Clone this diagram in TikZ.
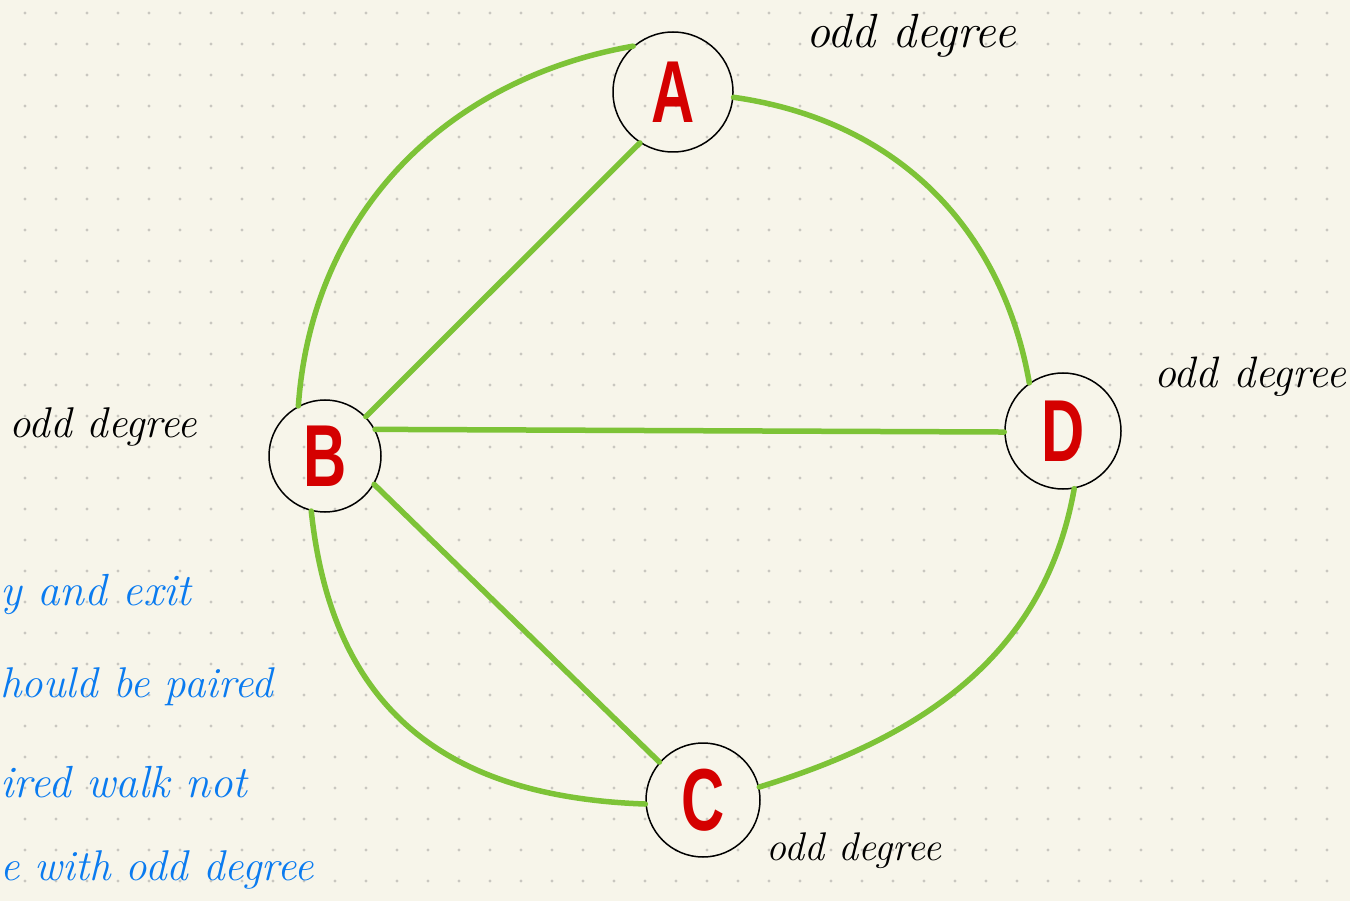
\documentclass[tikz,border=0pt]{standalone}
\usepackage{fontspec}
\newfontfamily\markerfont{Liberation Sans}
\definecolor{paper}{HTML}{F7F5EA}
\definecolor{dotc}{HTML}{C9C7C0}
\definecolor{edgegreen}{HTML}{7DC337}
\definecolor{markred}{HTML}{D40000}
\definecolor{penblue}{HTML}{0A7BF0}
\tikzset{
  vertex/.style={circle,draw=black,line width=1.5pt,inner sep=0pt,minimum size=#1,
    font=\markerfont\bfseries\fontsize{88}{88}\selectfont,text=markred},
  edge/.style={draw=edgegreen,line width=5.5pt,line cap=round},
  note/.style={font=\itshape\fontsize{#1}{#1}\selectfont,text=black,inner sep=0pt,anchor=base},
  bluenote/.style={font=\itshape\fontsize{#1}{#1}\selectfont,text=penblue,inner sep=0pt,anchor=base west}
}
\newcommand{\narrow}[1]{\scalebox{0.68}[1]{#1}}
\begin{document}
\begin{tikzpicture}[x=1pt,y=-1pt]
\fill[paper] (0,0) rectangle (1350,901);
\useasboundingbox (0,0) rectangle (1350,901);
\foreach \i in {0,...,43}{
  \foreach \j in {0,...,28}{
    \fill[dotc] ({25+31*\i},{13+31*\j}) circle (1.7);
  }
}
% vertices
\node[vertex=120pt] (A) at (673,92) {\narrow{A}};
\node[vertex=112pt] (B) at (325,456) {\narrow{B}};
\node[vertex=114pt] (C) at (703,800) {\narrow{C}};
\node[vertex=116pt] (D) at (1063,431) {\narrow{D}};
% edges
\draw[edge] (A.131) to[out=190,in=86] (B.118);
\draw[edge] (A.355) to[out=-8,in=100] (D.125);
\draw[edge] (A.237) -- (B.44);
\draw[edge] (B.28) -- (D.181);
\draw[edge] (B.-30) -- (C.139);
\draw[edge] (B.256) to[out=-84,in=178,looseness=1.15] (C.184);
\draw[edge] (D.281) to[out=-100,in=17] (C.13);
% labels
\node[note=48] (la) at (911,48) {odd degree};
\node[note=44] (ld) at (1250,388) {odd degree};
\node[note=43] (lb) at (103,437) {odd degree};
\node[note=40] (lc) at (854,860) {odd degree};
% blue notes
\node[bluenote=45] (n1) at (0,605) {y and exit};
\node[bluenote=43] (n2) at (0,697) {hould be paired};
\node[bluenote=45] (n3) at (0,797) {ired walk not};
\node[bluenote=43] (n4) at (0,880) {e with odd degree};
\end{tikzpicture}
\end{document}
